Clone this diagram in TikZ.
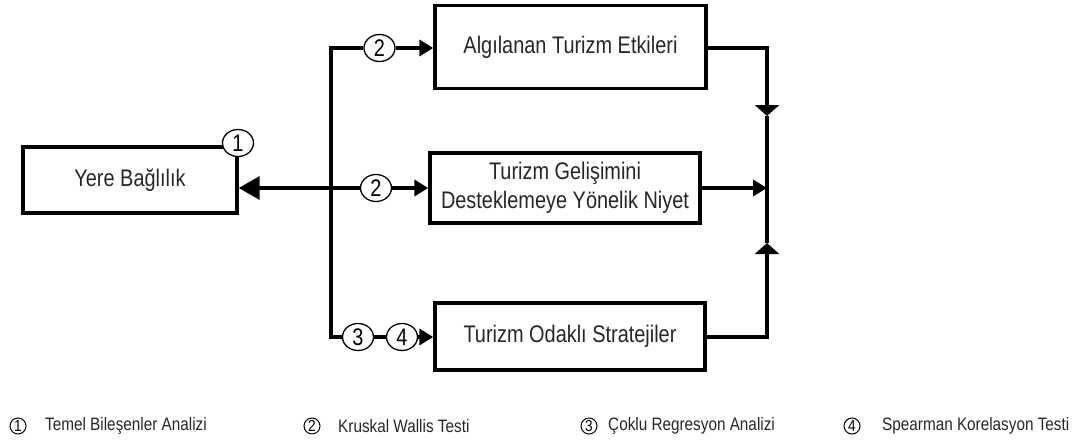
\documentclass[tikz,border=0pt]{standalone}
\usepackage{fontspec}
\setmainfont{Liberation Sans}
\newfontfamily\legfont[FakeStretch=0.85]{Liberation Sans}
\newfontfamily\tallfont[FakeStretch=0.83]{Liberation Sans}
\usetikzlibrary{arrows.meta,shapes.geometric}
\begin{document}
\begin{tikzpicture}[x=1pt,y=-1pt,
  box/.style={draw,line width=3.4pt,inner sep=0pt,align=center,font=\tallfont\fontsize{24}{29}\selectfont,text=black!85},
  num/.style={draw,ellipse,line width=1.3pt,fill=white,minimum width=31pt,minimum height=27pt,inner sep=0pt,font=\tallfont\fontsize{24}{24}\selectfont},
  conn/.style={line width=3.4pt},
  tip/.style={-{Triangle[length=14pt,width=16pt]}},
  bigtip/.style={-{Triangle[length=21pt,width=23pt]}},
  flattip/.style={-{Triangle[length=11pt,width=24pt]}},
  legnum/.style={draw,circle,line width=1pt,minimum size=16pt,inner sep=0pt,font=\legfont\fontsize{16}{16}\selectfont},
  legtext/.style={anchor=west,inner sep=0pt,font=\legfont\fontsize{18}{18}\selectfont,text=black!85}
]
\useasboundingbox (0,0) rectangle (1079,444);

\node[box,minimum width=214pt,minimum height=66pt] (yere) at (130,180) {Yere Bağlılık};
\node[box,minimum width=271pt,minimum height=83pt] (top) at (570.5,47) {Algılanan Turizm Etkileri};
\node[box,minimum width=270pt,minimum height=70pt] (mid) at (565,188) {Turizm Gelişimini\\Desteklemeye Yönelik Niyet};
\node[box,minimum width=270pt,minimum height=67pt] (bot) at (570,336.5) {Turizm Odaklı Stratejiler};

\coordinate (lt) at (331,48);
\coordinate (lm) at (331,188);
\coordinate (lb) at (331,337);
\coordinate (rj) at (767,188);
\coordinate (rd) at (767,116);
\coordinate (ru) at (767,243);

% left trunk
\draw[conn,line cap=rect] (lt) -- (lb);
\draw[conn,bigtip] (lm) -- (yere.east |- lm);

% numbered circles
\node[num] (c2a) at (379.5,48) {2};
\node[num] (c2b) at (376,188) {2};
\node[num] (c3) at (358,337) {3};
\node[num] (c4) at (402,337) {4};
\node[num] (c1) at (238,143) {1};

\draw[conn] (lt) -- (c2a);
\draw[conn,tip] (c2a) -- (top.west |- c2a);
\draw[conn] (lm) -- (c2b);
\draw[conn,tip] (c2b) -- (mid.west |- c2b);
\draw[conn] (lb) -- (c3);
\draw[conn] (c3) -- (c4);
\draw[conn,tip] (c4) -- (bot.west |- c4);

% right side
\draw[conn,flattip] (top.east |- lt) -| (rd);
\draw[conn] (rd) -- (rj);
\draw[conn,flattip] (bot.east |- lb) -| (ru);
\draw[conn] (ru) -- (rj);
\draw[conn,tip] (mid.east) -- (rj);

% legend
\node[legnum] (l1) at (18,426) {1};
\node[legtext] (t1) at (45,426) {Temel Bileşenler Analizi};
\node[legnum] (l2) at (312,426) {2};
\node[legtext] (t2) at (338,426) {Kruskal Wallis Testi};
\node[legnum] (l3) at (589,426) {3};
\node[legtext] (t3) at (608,426) {Çoklu Regresyon Analizi};
\node[legnum] (l4) at (852,426) {4};
\node[legtext] (t4) at (882,426) {Spearman Korelasyon Testi};
\end{tikzpicture}
\end{document}
